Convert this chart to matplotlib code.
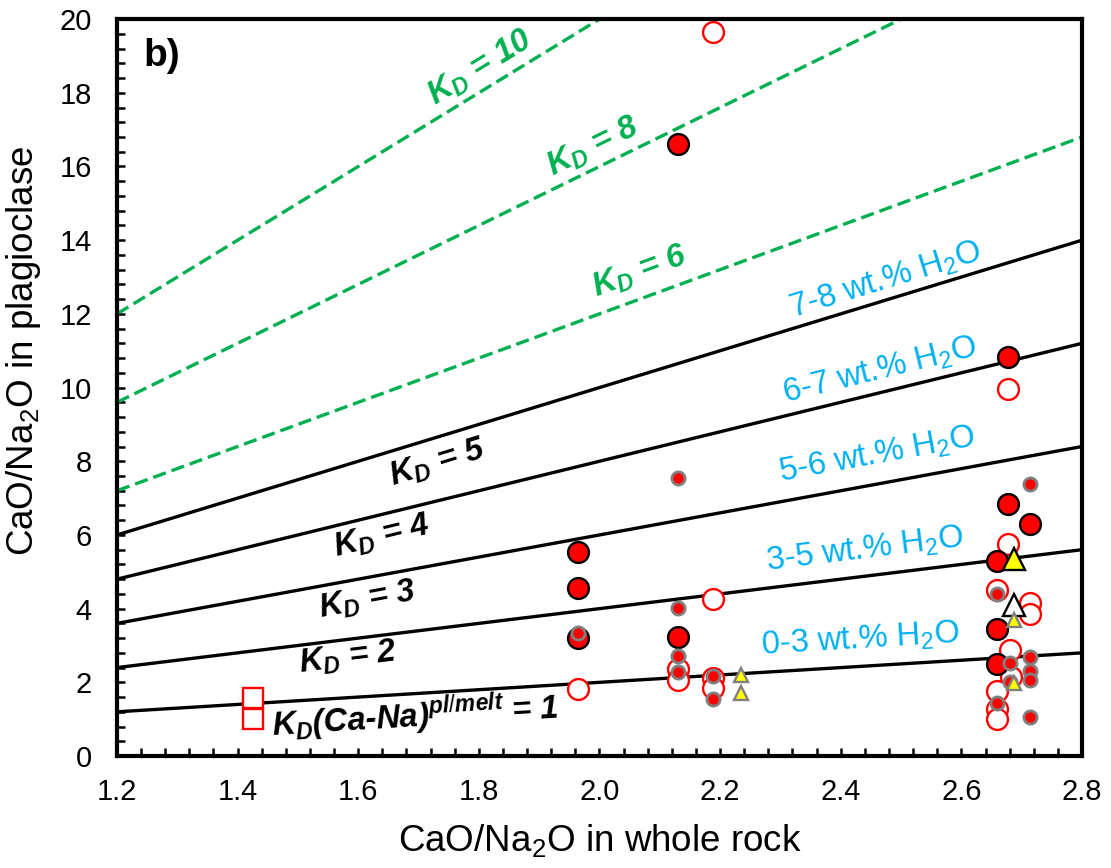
import numpy as np
import matplotlib
matplotlib.use("Agg")
import matplotlib.pyplot as plt

plt.rcParams["font.family"] = "Liberation Sans"
plt.rcParams["mathtext.fontset"] = "custom"
plt.rcParams["mathtext.rm"] = "Liberation Sans"
plt.rcParams["mathtext.it"] = "Liberation Sans:italic:bold"
plt.rcParams["mathtext.bf"] = "Liberation Sans:bold"

# Lineas de KD (CaO/Na2O plag = KD * CaO/Na2O roca)
kd_solidas = [1, 2, 3, 4, 5]
kd_discontinuas = [6, 8, 10]

# Circulos rojos grandes con borde negro
grandes_x = [1.965, 1.965, 1.965, 2.13, 2.13, 2.678, 2.678, 2.713, 2.659, 2.659, 2.659]
grandes_y = [5.54, 4.56, 3.20, 16.6, 3.22, 10.84, 6.84, 6.30, 5.30, 3.45, 2.50]

# Circulos abiertos (borde rojo)
abiertos_x = [1.965, 2.13, 2.13, 2.189, 2.189, 2.189, 2.189, 2.677, 2.677, 2.659,
              2.713, 2.713, 2.68, 2.683, 2.659, 2.659, 2.659]
abiertos_y = [1.82, 2.35, 2.06, 19.65, 4.25, 2.11, 1.84, 9.95, 5.75, 4.50,
              4.15, 3.85, 2.87, 2.15, 1.77, 1.27, 1.01]

# Circulos rojos pequenos con borde gris
pequenos_x = [1.965, 2.13, 2.13, 2.13, 2.13, 2.189, 2.189, 2.713, 2.659, 2.68,
              2.713, 2.713, 2.713, 2.68, 2.659, 2.713]
pequenos_y = [3.33, 7.54, 4.02, 2.72, 2.29, 2.17, 1.54, 7.37, 4.40, 2.52,
              2.68, 2.31, 2.06, 2.02, 1.43, 1.07]

# Triangulos
tri_amarillo_x = [2.688]
tri_amarillo_y = [5.36]
tri_blanco_x = [2.688]
tri_blanco_y = [4.10]
tri_peq_x = [2.235, 2.235, 2.688, 2.688]
tri_peq_y = [2.20, 1.70, 3.70, 1.97]

# Cuadrados abiertos
cuadros_x = [1.426, 1.426]
cuadros_y = [1.57, 1.01]

# Etiquetas de KD
kd_etiquetas = [r"$K_D$(Ca-Na)$^{\mathit{pl/melt}}$ = 1", r"$K_D$ = 2", r"$K_D$ = 3",
                r"$K_D$ = 4", r"$K_D$ = 5", r"$K_D$ = 6", r"$K_D$ = 8", r"$K_D$ = 10"]
kd_etiq_k = [1, 2, 3, 4, 5, 6, 8, 10]
kd_etiq_x = [1.694, 1.583, 1.615, 1.639, 1.732, 2.067, 1.989, 1.802]
kd_etiq_y = [1.10, 2.66, 4.23, 5.94, 7.95, 13.13, 16.53, 18.67]

# Etiquetas de agua
agua_etiquetas = ["0-3 wt.% H$_2$O", "3-5 wt.% H$_2$O", "5-6 wt.% H$_2$O",
                  "6-7 wt.% H$_2$O", "7-8 wt.% H$_2$O"]
agua_k = [1, 2, 3, 4, 5]
agua_x = [2.432, 2.44, 2.46, 2.465, 2.474]
agua_y = [3.15, 5.59, 8.17, 10.47, 12.92]

verde = "#00B050"
azul = "#00B0F0"

fig = plt.figure(figsize=(11.11, 8.68), dpi=100)
ax = fig.add_axes([0.1053, 0.129, 0.8686, 0.849])
ax.set_xlim(1.2, 2.8)
ax.set_ylim(0, 20)

xs = np.array([1.2, 2.8])
for k in kd_solidas:
    ax.plot(xs, k * xs, color="black", lw=2.4, zorder=2)
for k in kd_discontinuas:
    ax.plot(xs, k * xs, color=verde, lw=2.4, dashes=(4, 1.8), zorder=2)

ax.plot(abiertos_x, abiertos_y, "o", ms=15, mfc="white", mec="red", mew=1.7, ls="none", zorder=3)
ax.plot(cuadros_x, cuadros_y, "s", ms=15, mfc="white", mec="red", mew=1.7, ls="none", zorder=3)
ax.plot(grandes_x, grandes_y, "o", ms=15, mfc="red", mec="black", mew=1.7, ls="none", zorder=4)
ax.plot(pequenos_x, pequenos_y, "o", ms=9.5, mfc="red", mec="#808080", mew=2.0, ls="none", zorder=5)
ax.plot(tri_amarillo_x, tri_amarillo_y, "^", ms=16.5, mfc="yellow", mec="black", mew=1.7, ls="none", zorder=6)
ax.plot(tri_blanco_x, tri_blanco_y, "^", ms=16.5, mfc="white", mec="black", mew=1.7, ls="none", zorder=6)
ax.plot(tri_peq_x, tri_peq_y, "^", ms=9.5, mfc="yellow", mec="#808080", mew=1.7, ls="none", zorder=6)

for txt, k, x, y in zip(kd_etiquetas, kd_etiq_k, kd_etiq_x, kd_etiq_y):
    color = verde if k >= 6 else "black"
    ax.text(x, y, txt, color=color, fontsize=23.5, fontweight="bold", fontstyle="italic",
            rotation=np.degrees(np.arctan(k)), transform_rotates_text=True,
            rotation_mode="anchor", ha="center", va="center", zorder=7)

for txt, k, x, y in zip(agua_etiquetas, agua_k, agua_x, agua_y):
    ax.text(x, y, txt, color=azul, fontsize=23.5,
            rotation=np.degrees(np.arctan(k)), transform_rotates_text=True,
            rotation_mode="anchor", ha="center", va="center", zorder=7)

ax.text(0.027, 0.95, "b)", transform=ax.transAxes, fontsize=28, fontweight="bold",
        ha="left", va="center")

ax.set_xticks(np.arange(1.2, 2.81, 0.2))
ax.set_xticks(np.arange(1.2, 2.81, 0.04), minor=True)
ax.set_yticks(np.arange(0, 21, 2))
ax.set_yticks(np.arange(0, 20.1, 0.4), minor=True)
ax.set_xticklabels([f"{v:.1f}" for v in np.arange(1.2, 2.81, 0.2)])
ax.tick_params(which="both", direction="in", length=6, width=1.8, labelsize=21)
ax.tick_params(axis="x", pad=16)
ax.tick_params(axis="y", pad=18)

for s in ax.spines.values():
    s.set_linewidth(3)

ax.set_xlabel("CaO/Na$_2$O in whole rock", fontsize=26.5)
ax.set_ylabel("CaO/Na$_2$O in plagioclase", fontsize=26.5)
ax.xaxis.set_label_coords(0.5, -0.09)
ax.yaxis.set_label_coords(-0.077, 0.55)

fig.savefig("out.png", dpi=100)
